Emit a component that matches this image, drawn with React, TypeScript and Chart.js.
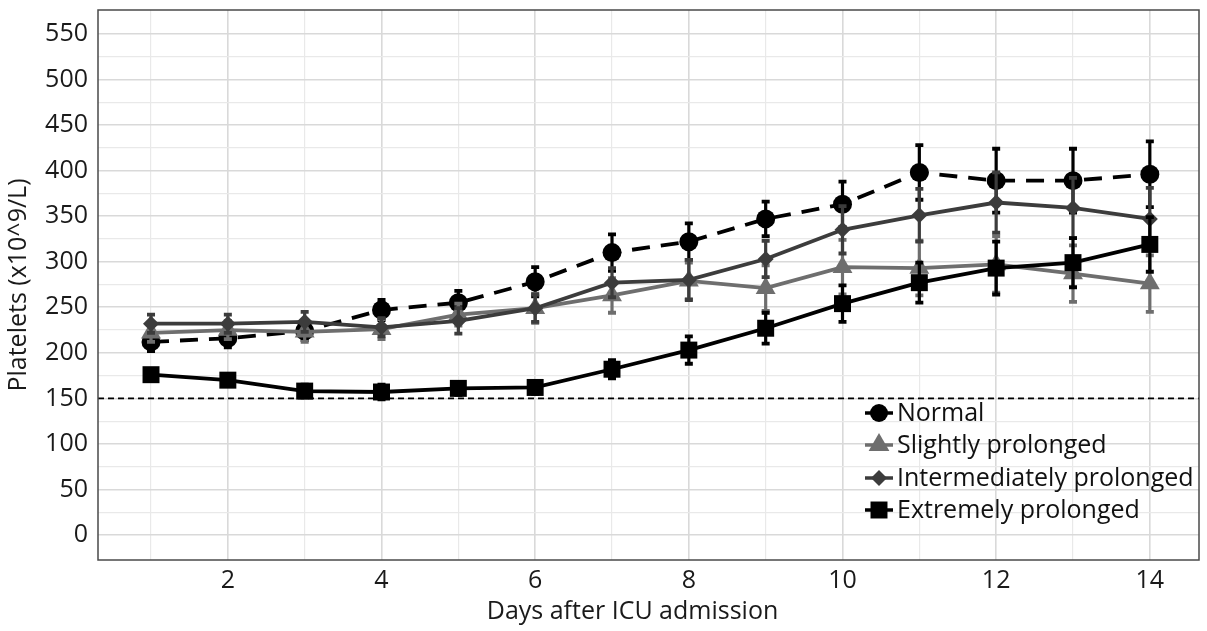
import React, { useEffect, useRef } from 'react';
import { Chart, registerables } from 'chart.js';

Chart.register(...registerables);

const days = [1, 2, 3, 4, 5, 6, 7, 8, 9, 10, 11, 12, 13, 14];

const normal = [212, 216, 224, 247, 255, 278, 310, 322, 347, 363, 398, 389, 389, 396];
const normalErr = [10, 10, 10, 11, 13, 16, 20, 20, 19, 25, 30, 35, 35, 36];

const slightly = [222, 225, 223, 226, 242, 249, 263, 279, 271, 294, 293, 297, 287, 276];
const slightlyErr = [10, 10, 11, 11, 12, 16, 19, 20, 25, 30, 30, 31, 31, 31];

const intermediate = [232, 232, 234, 228, 235, 249, 277, 280, 303, 335, 351, 365, 359, 347];
const intermediateErr = [10, 10, 11, 10, 14, 15, 16, 22, 20, 26, 29, 33, 33, 34];

const extremely = [176, 170, 158, 157, 161, 162, 182, 203, 227, 254, 277, 293, 299, 319];
const extremelyErr = [6, 6, 7, 8, 7, 7, 10, 15, 17, 20, 22, 29, 27, 30];

const seriesNames = ['Normal', 'Slightly prolonged', 'Intermediately prolonged', 'Extremely prolonged'];

const xTickValues = [1, 2, 3, 4, 5, 6, 7, 8, 9, 10, 11, 12, 13, 14];
const yTickValues = [0, 25, 50, 75, 100, 125, 150, 175, 200, 225, 250, 275, 300, 325, 350, 375, 400, 425, 450, 475, 500, 525, 550];
const thresholdValue = 150;

const FONT = "'Open Sans', 'Noto Sans', sans-serif";
const MAJOR_GRID = '#d9d9d9';
const MINOR_GRID = '#e9e9e9';

type Shape = 'circle' | 'triangle' | 'rectRot' | 'rect';

const styles: { color: string; shape: Shape; radius: number; dash: number[]; legendRadius: number }[] = [
  { color: '#000000', shape: 'circle', radius: 9.5, dash: [18, 11], legendRadius: 9 },
  { color: '#6e6e6e', shape: 'triangle', radius: 11.5, dash: [], legendRadius: 12 },
  { color: '#3c3c3c', shape: 'rectRot', radius: 8, dash: [], legendRadius: 8 },
  { color: '#000000', shape: 'rect', radius: 12, dash: [], legendRadius: 12 },
];

function drawShape(ctx: CanvasRenderingContext2D, shape: Shape, x: number, y: number, r: number) {
  ctx.beginPath();
  if (shape === 'circle') {
    ctx.arc(x, y, r, 0, Math.PI * 2);
  } else if (shape === 'triangle') {
    const s = r * Math.sqrt(3) / 2;
    ctx.moveTo(x, y - r);
    ctx.lineTo(x + s, y + r / 2);
    ctx.lineTo(x - s, y + r / 2);
    ctx.closePath();
  } else if (shape === 'rectRot') {
    ctx.moveTo(x, y - r);
    ctx.lineTo(x + r, y);
    ctx.lineTo(x, y + r);
    ctx.lineTo(x - r, y);
    ctx.closePath();
  } else {
    const s = r * Math.SQRT1_2;
    ctx.rect(x - s, y - s, 2 * s, 2 * s);
  }
  ctx.fill();
}

const errorBarPlugin = {
  id: 'errorBars',
  beforeDatasetDraw(chart: any, args: any) {
    const ds = chart.data.datasets[args.index];
    const errs: number[] = ds.errors;
    if (!errs) return;
    const ctx: CanvasRenderingContext2D = chart.ctx;
    const xs = chart.scales.x;
    const ys = chart.scales.y;
    ctx.save();
    ctx.strokeStyle = ds.borderColor;
    ctx.setLineDash([]);
    ctx.lineCap = 'butt';
    ds.data.forEach((p: { x: number; y: number }, i: number) => {
      const x = xs.getPixelForValue(p.x);
      const y1 = ys.getPixelForValue(p.y - errs[i]);
      const y2 = ys.getPixelForValue(p.y + errs[i]);
      ctx.lineWidth = 3.2;
      ctx.beginPath();
      ctx.moveTo(x, y1);
      ctx.lineTo(x, y2);
      ctx.stroke();
      ctx.lineWidth = 3.8;
      ctx.beginPath();
      ctx.moveTo(x - 4, y1);
      ctx.lineTo(x + 4, y1);
      ctx.moveTo(x - 4, y2);
      ctx.lineTo(x + 4, y2);
      ctx.stroke();
    });
    ctx.restore();
  },
};

const decorPlugin = {
  id: 'decor',
  beforeDatasetsDraw(chart: any) {
    const ctx: CanvasRenderingContext2D = chart.ctx;
    const { left, right } = chart.chartArea;
    const y = chart.scales.y.getPixelForValue(thresholdValue);
    ctx.save();
    ctx.strokeStyle = '#000';
    ctx.lineWidth = 1.8;
    ctx.setLineDash([6, 4]);
    ctx.beginPath();
    ctx.moveTo(left, y);
    ctx.lineTo(right, y);
    ctx.stroke();
    ctx.restore();
  },
  afterDraw(chart: any) {
    const ctx: CanvasRenderingContext2D = chart.ctx;
    const { left, right, top, bottom } = chart.chartArea;
    ctx.save();
    ctx.strokeStyle = '#4a4a4a';
    ctx.lineWidth = 1.5;
    ctx.setLineDash([]);
    ctx.strokeRect(left, top, right - left, bottom - top);

    // legend
    const lineStart = right - 334;
    const markerX = right - 320;
    const lineEnd = right - 306;
    const textX = right - 302;
    const rowY = [bottom - 147, bottom - 115, bottom - 82, bottom - 50];
    ctx.font = `25px ${FONT}`;
    ctx.textBaseline = 'middle';
    ctx.textAlign = 'left';
    seriesNames.forEach((name, i) => {
      const st = styles[i];
      const y = rowY[i];
      ctx.strokeStyle = st.color;
      ctx.fillStyle = st.color;
      ctx.lineWidth = 3.5;
      ctx.beginPath();
      ctx.moveTo(lineStart, y);
      ctx.lineTo(lineEnd, y);
      ctx.stroke();
      drawShape(ctx, st.shape, markerX, y, st.legendRadius);
      ctx.fillStyle = '#111';
      ctx.fillText(name, textX, y + 1);
    });

    // x axis title, placed like the reference
    ctx.fillStyle = '#1a1a1a';
    ctx.textAlign = 'center';
    ctx.textBaseline = 'middle';
    ctx.fillText('Days after ICU admission', (left + right) / 2 - 16, bottom + 52);
    ctx.restore();
  },
};

export default function App() {
  const canvasRef = useRef<HTMLCanvasElement | null>(null);

  useEffect(() => {
    if (!canvasRef.current) return;
    const series = [normal, slightly, intermediate, extremely];
    const errors = [normalErr, slightlyErr, intermediateErr, extremelyErr];
    const datasets = series.map((vals, i) => {
      const st = styles[i];
      return {
        label: seriesNames[i],
        data: days.map((d, j) => ({ x: d, y: vals[j] })),
        errors: errors[i],
        borderColor: st.color,
        backgroundColor: st.color,
        borderWidth: 3.8,
        borderDash: st.dash,
        pointStyle: st.shape,
        pointRadius: st.radius,
        pointBackgroundColor: st.color,
        pointBorderColor: st.color,
        pointBorderWidth: 0,
        tension: 0,
        fill: false,
        order: 3 - i,
      } as any;
    });

    const chart = new Chart(canvasRef.current, {
      type: 'line',
      data: { datasets },
      plugins: [errorBarPlugin, decorPlugin],
      options: {
        animation: false,
        responsive: false,
        devicePixelRatio: 1,
        layout: { autoPadding: false, padding: { left: 0, top: 10, right: 8, bottom: 0 } },
        plugins: { legend: { display: false }, tooltip: { enabled: false } },
        scales: {
          x: {
            type: 'linear',
            min: 0.31,
            max: 14.64,
            afterBuildTicks: (s: any) => {
              s.ticks = xTickValues.map((v) => ({ value: v }));
            },
            afterFit: (s: any) => {
              s.height = 71;
              s.paddingLeft = 0;
              s.paddingRight = 0;
            },
            ticks: {
              autoSkip: false,
              maxRotation: 0,
              padding: 6,
              color: '#1a1a1a',
              font: { family: FONT, size: 25 },
              callback: (v: any) => (Number(v) % 2 === 0 ? String(v) : ''),
            },
            grid: {
              drawTicks: false,
              color: (c: any) => (c.tick && c.tick.value % 2 === 0 ? MAJOR_GRID : MINOR_GRID),
              lineWidth: (c: any) => (c.tick && c.tick.value % 2 === 0 ? 1.6 : 1.2),
            },
            border: { display: false },
            title: { display: false },
          },
          y: {
            type: 'linear',
            min: -27.4,
            max: 576.3,
            afterBuildTicks: (s: any) => {
              s.ticks = yTickValues.map((v) => ({ value: v }));
            },
            afterFit: (s: any) => {
              s.width = 98;
              s.paddingTop = 0;
              s.paddingBottom = 0;
            },
            ticks: {
              autoSkip: false,
              padding: 10,
              color: '#1a1a1a',
              font: { family: FONT, size: 25 },
              callback: (v: any) => (Number(v) % 50 === 0 ? String(v) : ''),
            },
            grid: {
              drawTicks: false,
              color: (c: any) => (c.tick && c.tick.value % 50 === 0 ? MAJOR_GRID : MINOR_GRID),
              lineWidth: (c: any) => (c.tick && c.tick.value % 50 === 0 ? 1.6 : 1.2),
            },
            border: { display: false },
            title: {
              display: true,
              text: 'Platelets (x10^9/L)',
              color: '#1a1a1a',
              font: { family: FONT, size: 25 },
              padding: { top: 4, bottom: 2 },
            },
          },
        },
      } as any,
    });
    return () => chart.destroy();
  }, []);

  return (
    <div style={{ position: 'absolute', left: 0, top: 0, width: 1207, height: 631, background: '#fff' }}>
      <canvas ref={canvasRef} width={1207} height={631} style={{ display: 'block', width: 1207, height: 631 }} />
    </div>
  );
}
